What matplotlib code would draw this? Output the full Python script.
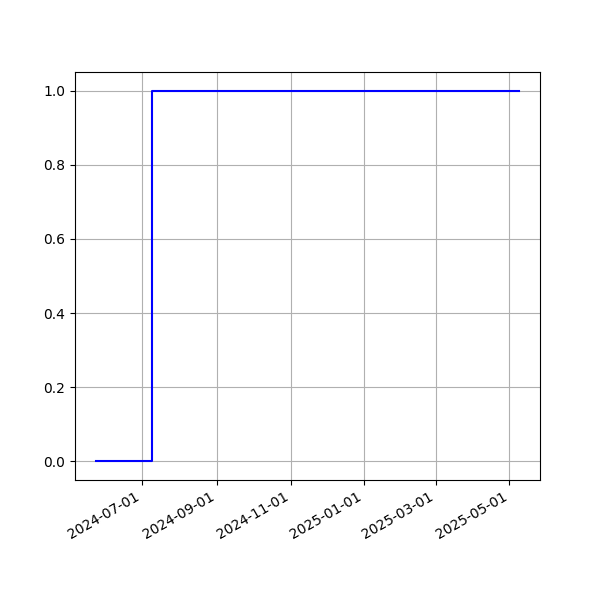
#!/usr/bin/env python3

import matplotlib as mpl
mpl.use('Agg')
import matplotlib.pyplot as plt
import matplotlib.dates as mdates
import numpy as np

#======================================================================

dates = np.array(['2024-05-24', '2024-07-09', '2025-05-09'],
                 dtype='datetime64[D]')
values = [0, 1, 1]

#======================================================================

def main():
    fig, ax = plt.subplots(figsize=(6, 6), dpi=100)
    ax.plot(dates, values, color='blue', drawstyle='steps-post')
    ax.xaxis.set_major_locator(mdates.MonthLocator(bymonth=[1, 3, 5, 7, 9, 11]))
    ax.xaxis.set_major_formatter(mdates.DateFormatter('%Y-%m-%d'))
    ax.grid(True)
    fig.autofmt_xdate()
    fig.savefig('out.png')
    plt.close()

if __name__ == '__main__':
    main()
